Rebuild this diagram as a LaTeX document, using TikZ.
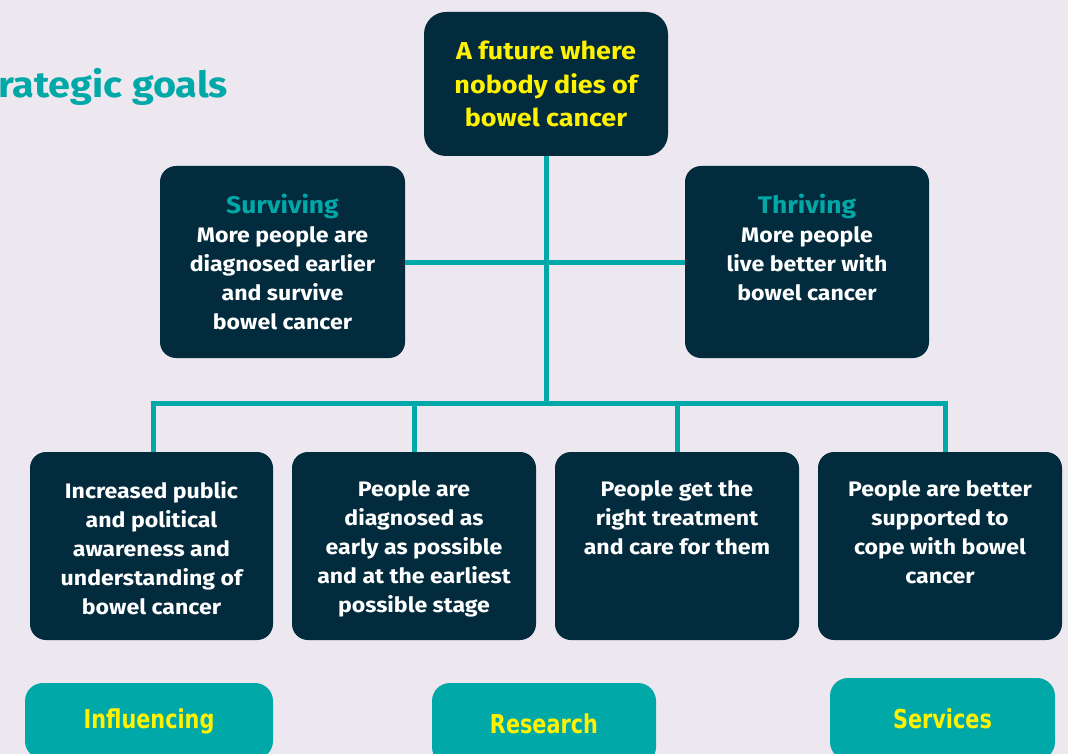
\documentclass[tikz,border=0pt]{standalone}
\usepackage{fontspec}
\setmainfont{Fira Sans}[FakeStretch=1.1]
\newfontfamily\condfont{DejaVu Sans}[FakeStretch=0.8]
\definecolor{bg}{HTML}{EDE7EF}
\definecolor{navy}{HTML}{022B3D}
\definecolor{tealc}{HTML}{00A9A8}
\definecolor{yel}{HTML}{FFF200}
\begin{document}
\begin{tikzpicture}[x=1pt,y=-1pt,
  box/.style={fill=navy, rounded corners=16pt, inner sep=0pt, text=white,
    font=\bfseries\fontsize{21}{29}\selectfont},
  area/.style={fill=tealc, rounded corners=18pt, inner sep=0pt, text=yel,
    minimum width=#1, font=\condfont\bfseries\fontsize{26}{30}\selectfont},
  conn/.style={draw=tealc, line width=5pt, line join=miter}]
\useasboundingbox (0,0) rectangle (1068,754);
\clip (0,0) rectangle (1068,754);
\fill[bg] (0,0) rectangle (1068,754);

\node[anchor=west, text=tealc, inner sep=0pt,
  font=\bfseries\fontsize{36}{40}\selectfont] (title) at (-2,87) {rategic goals};

\node[box, minimum width=244pt, minimum height=144pt, rounded corners=22pt,
  text=yel, align=center, font=\bfseries\fontsize{24.5}{33.5}\selectfont] (top) at (546,84)
  {A future where\\nobody dies of\\bowel cancer};

\node[box, minimum width=245pt, minimum height=192pt] (surv) at (282.5,262)
  {\parbox[c][192pt][t]{240pt}{\centering\vspace*{28pt}{\color{tealc}\fontsize{24}{29}\selectfont Surviving}\\More people are\\diagnosed earlier\\and survive\\bowel cancer}};
\node[box, minimum width=244pt, minimum height=192pt] (thr) at (807,262)
  {\parbox[c][192pt][t]{240pt}{\centering\vspace*{28pt}{\color{tealc}\fontsize{24}{29}\selectfont Thriving}\\More people\\live better with\\bowel cancer}};

\node[box, minimum width=243pt, minimum height=188pt] (b1) at (151.5,546)
  {\parbox[c][188pt][t]{240pt}{\centering\vspace*{29pt}Increased public\\and political\\awareness and\\understanding of\\bowel cancer}};
\node[box, minimum width=244pt, minimum height=188pt] (b2) at (414,546)
  {\parbox[c][188pt][t]{240pt}{\centering\vspace*{29pt}People are\\diagnosed as\\early as possible\\and at the earliest\\possible stage}};
\node[box, minimum width=244pt, minimum height=188pt] (b3) at (677,546)
  {\parbox[c][188pt][t]{240pt}{\centering\vspace*{29pt}People get the\\right treatment\\and care for them}};
\node[box, minimum width=244pt, minimum height=188pt] (b4) at (940,546)
  {\parbox[c][188pt][t]{240pt}{\centering\vspace*{29pt}People are better\\supported to\\cope with bowel\\cancer}};

\node[area=248pt, minimum height=76pt] (inf) at (149,721) {Influencing};
\node[area=224pt, minimum height=82pt] (res) at (544,724) {Research};
\node[area=225pt, minimum height=82pt] (ser) at (942.5,719) {Services};

\coordinate (bus) at (546,403);
\draw[conn] (top.south) -- (bus);
\draw[conn] (surv.east) -- (thr.west);
\draw[conn] ([xshift=1.5pt]b1.north) -- ([xshift=1.5pt]b1.north |- bus)
  -- ([xshift=5pt]b4.north |- bus) -- ([xshift=5pt]b4.north);
\draw[conn] (b2.north |- bus) -- (b2.north);
\draw[conn] (b3.north |- bus) -- (b3.north);
\end{tikzpicture}
\end{document}
